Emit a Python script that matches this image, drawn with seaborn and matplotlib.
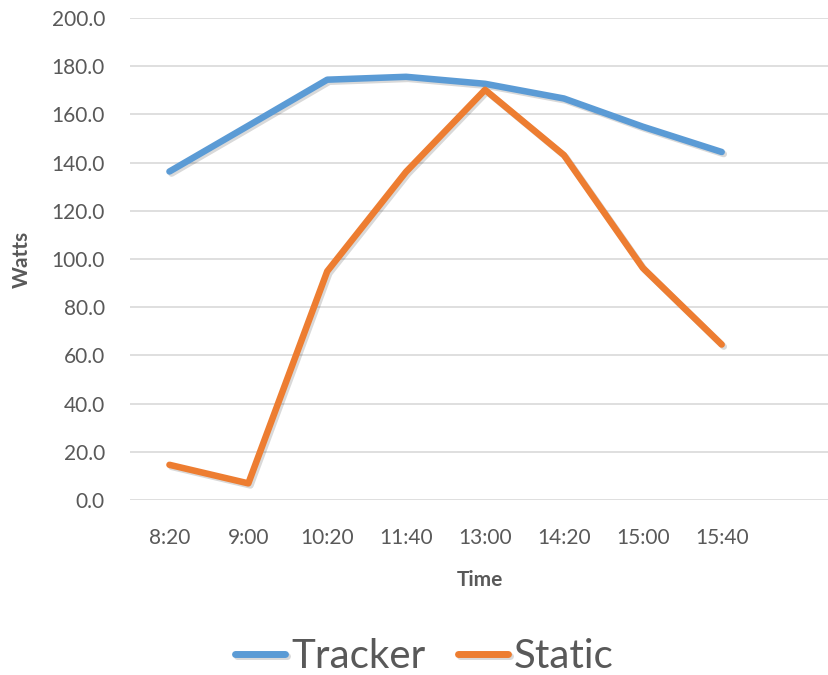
import matplotlib
matplotlib.use("Agg")
import matplotlib.pyplot as plt
import matplotlib.patheffects as pe
import seaborn as sns
import pandas as pd

# values
times = ["8:20", "9:00", "10:20", "11:40", "13:00", "14:20", "15:00", "15:40"]
tracker = [136.3, 155.3, 174.4, 175.6, 172.7, 166.6, 154.9, 144.4]
static = [14.6, 6.9, 94.9, 136.2, 170.2, 143.1, 96.3, 64.5]

series_names = ["Tracker", "Static"]
colors = {"Tracker": "#5B9BD5", "Static": "#ED7D31"}

df = pd.DataFrame({
    "Time": times * 2,
    "Watts": tracker + static,
    "Series": [series_names[0]] * len(times) + [series_names[1]] * len(times),
})

sns.set_theme(style="white")
plt.rcParams["font.family"] = ["Lato", "DejaVu Sans"]

fig = plt.figure(figsize=(8.29, 6.75), dpi=100)
ax = fig.add_axes([130 / 829, 175 / 675, 699 / 829, 482 / 675])

shadow = [pe.SimpleLineShadow(offset=(1.5, -1.5), alpha=0.15, shadow_color="black"), pe.Normal()]
sns.lineplot(data=df, x="Time", y="Watts", hue="Series", palette=colors, sort=False,
             linewidth=4.7, ax=ax, legend=True)
for line in ax.lines:
    line.set_solid_capstyle("round")
    line.set_solid_joinstyle("round")
    line.set_path_effects(shadow)

ax.set_ylim(0, 200)
ax.set_yticks(range(0, 201, 20))
ax.set_yticklabels([f"{v:.1f}" for v in range(0, 201, 20)])
ax.set_xlim(-0.5, 8.36)

ax.yaxis.grid(True, color="#D9D9D9", linewidth=1.2)
ax.set_axisbelow(True)
for s in ax.spines.values():
    s.set_visible(False)
ax.tick_params(axis="both", length=0, labelsize=15, labelcolor="#595959")
ax.tick_params(axis="y", pad=18)
ax.tick_params(axis="x", pad=20)

ax.set_xlabel("Time", fontsize=15, fontweight="bold", color="#595959", labelpad=16)
ax.set_ylabel("Watts", fontsize=15, fontweight="bold", color="#595959", labelpad=14)

ax.get_legend().remove()
handles, labels = ax.get_legend_handles_labels()
for h in handles:
    h.set_linewidth(5)
    h.set_solid_capstyle("round")
fig.legend(handles, labels, loc="center", bbox_to_anchor=(0.512, 0.027), ncol=2,
           frameon=False, fontsize=29, labelcolor="#595959", handlelength=1.25,
           handletextpad=0.15, columnspacing=0.8)

fig.savefig("out.png", dpi=100)
